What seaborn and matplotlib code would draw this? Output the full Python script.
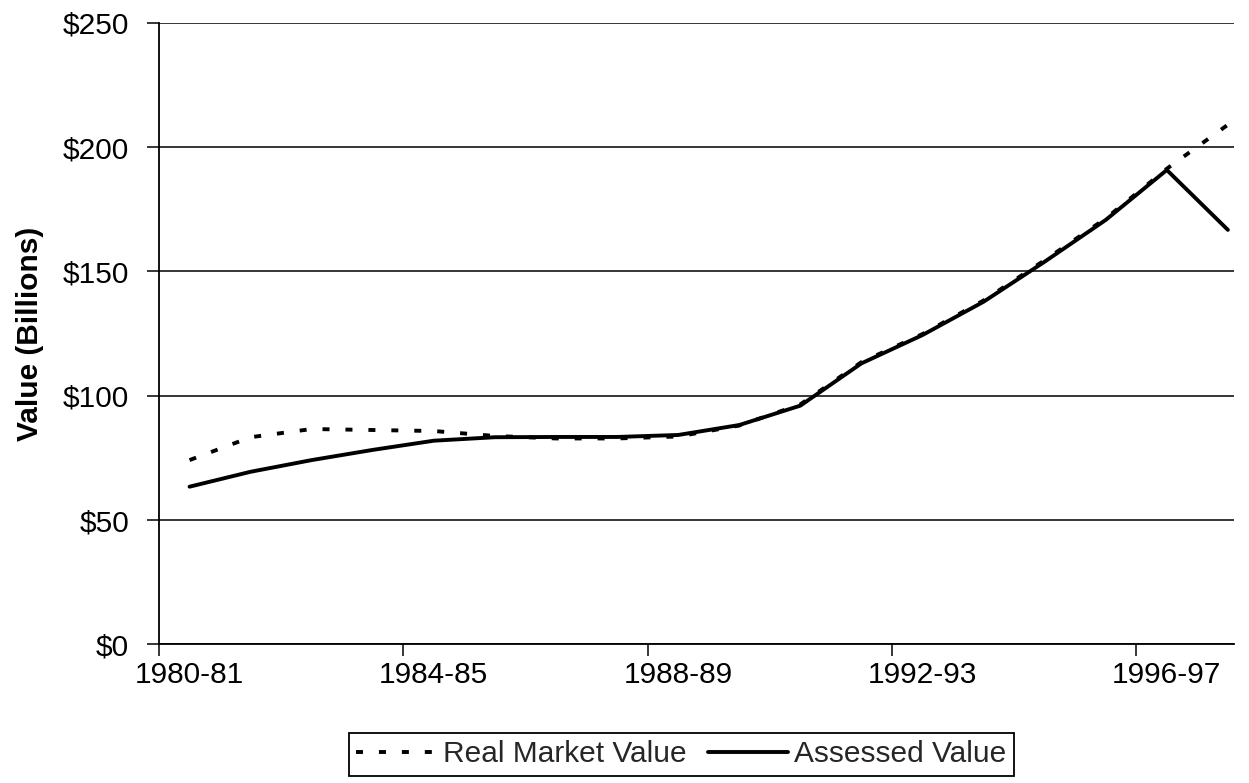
import numpy as np
import pandas as pd
import matplotlib
matplotlib.use("Agg")
import matplotlib.pyplot as plt
from matplotlib.ticker import FuncFormatter, FixedLocator
import seaborn as sns

# ---- data ----
years = ["1980-81", "1981-82", "1982-83", "1983-84", "1984-85", "1985-86",
         "1986-87", "1987-88", "1988-89", "1989-90", "1990-91", "1991-92",
         "1992-93", "1993-94", "1994-95", "1995-96", "1996-97", "1997-98"]
real_market = [74.1, 83.3, 86.6, 86.2, 85.8, 83.8, 82.8, 82.8, 83.6, 88.0,
               96.5, 113.5, 124.8, 138.3, 154.5, 171.3, 191.3, 209.0]
assessed = [63.4, 69.4, 74.1, 78.2, 81.9, 83.3, 83.4, 83.4, 84.2, 88.2,
            96.0, 113.0, 124.4, 137.8, 153.9, 170.7, 190.8, 166.7]
label_years = ["1980-81", "1984-85", "1988-89", "1992-93", "1996-97"]
y_ticks = [0, 50, 100, 150, 200, 250]

sns.set_style("white")
plt.rcParams["font.family"] = ["Liberation Sans", "DejaVu Sans"]

pos = np.arange(len(years))
df = pd.DataFrame({"pos": pos, "real": real_market, "assessed": assessed})

fig = plt.figure(figsize=(12.49, 7.83), dpi=100)
ax = fig.add_axes([159 / 1249, 1 - 644.3 / 783, (1234 - 159) / 1249, (644.3 - 22.8) / 783])

sns.lineplot(data=df, x="pos", y="real", ax=ax, color="black", lw=2.8,
             label="Real Market Value")
sns.lineplot(data=df, x="pos", y="assessed", ax=ax, color="black", lw=2.8,
             label="Assessed Value")
ax.lines[0].set_dashes((1.8, 4.1))
ax.lines[0].set_dash_capstyle("butt")

ax.set_xlim(-0.5, 17.1)
ax.set_ylim(0, 250)

# x: tick marks between categories, labels on categories
label_pos = [years.index(y) for y in label_years]
ax.xaxis.set_major_locator(FixedLocator([p - 0.5 for p in label_pos]))
ax.xaxis.set_major_formatter(FuncFormatter(lambda v, p: ""))
ax.set_xticks(label_pos, minor=True)
ax.set_xticklabels(label_years, minor=True)
ax.tick_params(axis="x", which="major", direction="out", length=8.5, width=1.1,
               color="black", bottom=True)
ax.tick_params(axis="x", which="minor", length=0, pad=12, labelsize=21.5,
               labelcolor="black", bottom=True)

ax.set_yticks(y_ticks)
ax.yaxis.set_major_formatter(FuncFormatter(lambda v, p: f"${v:.0f}"))
ax.tick_params(axis="y", direction="out", length=8.5, width=1.1, color="black",
               pad=13, labelsize=21.5, labelcolor="black", left=True)

ax.grid(axis="y", color="black", lw=1.1)
ax.grid(axis="x", visible=False)
for s in ["top", "right"]:
    ax.spines[s].set_visible(False)
for s in ["left", "bottom"]:
    ax.spines[s].set_color("black")
    ax.spines[s].set_linewidth(1.3)

ax.set_xlabel("")
ax.set_ylabel("Value (Billions)", fontsize=21.5, fontweight="bold", color="black")
ax.yaxis.set_label_coords(-0.107, 0.5)

ax.get_legend().remove()
handles, labels = ax.get_legend_handles_labels()
leg = fig.legend(handles, labels, loc="upper left",
                 bbox_to_anchor=(349 / 1249, 1 - 733 / 783), ncol=2,
                 fontsize=21.5, frameon=True, fancybox=False, shadow=False,
                 handlelength=2.7, handletextpad=0.2, columnspacing=0.7,
                 borderpad=0.25, borderaxespad=0)
leg.get_frame().set_edgecolor("black")
leg.get_frame().set_linewidth(1.3)
leg.get_frame().set_alpha(1)

fig.savefig("out.png", dpi=100)
